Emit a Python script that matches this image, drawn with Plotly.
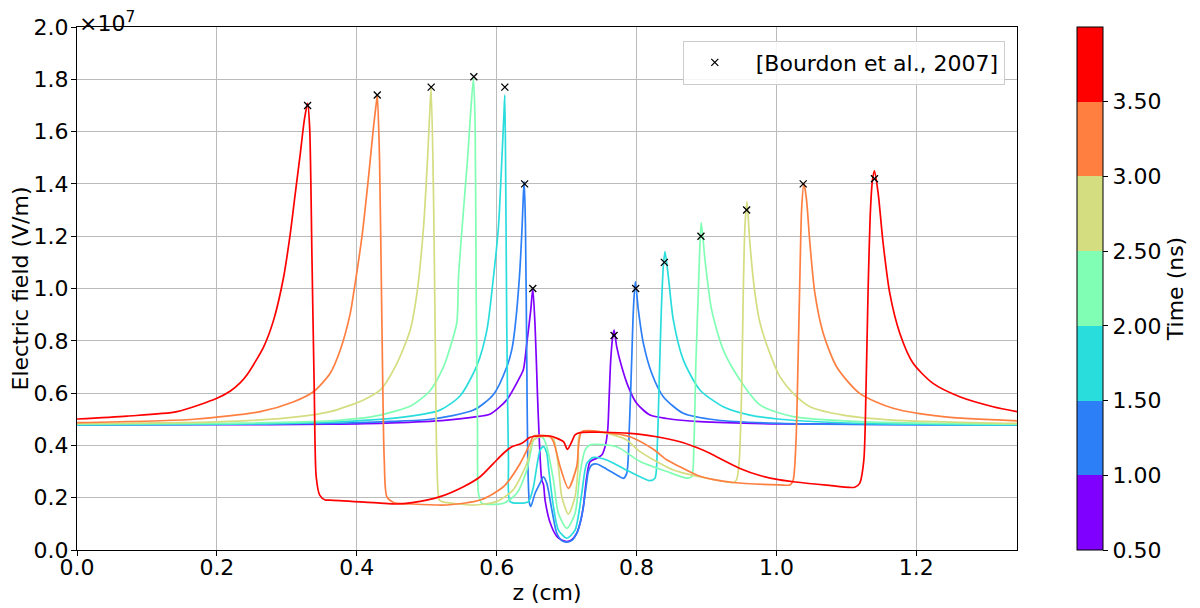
import plotly.graph_objects as go

# Electric field in units of 1e7 V/m, z in cm
times_ns = [0.5, 1.0, 1.5, 2.0, 2.5, 3.0, 3.5]
time_ticks = [0.5, 1.0, 1.5, 2.0, 2.5, 3.0, 3.5]
time_tick_text = ["0.50", "1.00", "1.50", "2.00", "2.50", "3.00", "3.50"]
colors = ["#8000ff", "#2c7ff7", "#2adddd", "#80ffb4", "#d4dd80", "#ff7f41", "#ff0000"]

z_t05 = [0.000, 0.200, 0.362, 0.450, 0.529, 0.567, 0.591, 0.6145, 0.6336, 0.6383, 0.6431, 0.6488, 0.6517, 0.655,
         0.6583, 0.6612, 0.6645, 0.667, 0.6693, 0.6764, 0.686, 0.693, 0.7002, 0.707, 0.7145, 0.720, 0.724, 0.7288,
         0.7336, 0.7431, 0.7502, 0.755, 0.7588, 0.7607, 0.7631, 0.766, 0.7679, 0.7717, 0.7788, 0.7883, 0.8002,
         0.8193, 0.8431, 0.8907, 1.005, 1.344]
e_t05 = [0.478, 0.479, 0.481, 0.486, 0.497, 0.508, 0.520, 0.574, 0.663, 0.690, 0.790, 0.918, 1.000, 0.854,
         0.599, 0.408, 0.268, 0.250, 0.190, 0.105, 0.052, 0.038, 0.032, 0.038, 0.064, 0.110, 0.166, 0.280,
         0.338, 0.351, 0.363, 0.395, 0.459, 0.574, 0.727, 0.816, 0.841, 0.777, 0.701, 0.624, 0.561,
         0.516, 0.503, 0.491, 0.482, 0.478]

z_t10 = [0.000, 0.362, 0.450, 0.505, 0.567, 0.5955, 0.6145, 0.622, 0.6264, 0.6326, 0.6364, 0.6383, 0.6395, 0.6412,
         0.6431, 0.6445, 0.6469, 0.6488, 0.655, 0.662, 0.6669, 0.6717, 0.679, 0.686, 0.693, 0.700, 0.707, 0.7145,
         0.720, 0.724, 0.7288, 0.7312, 0.736, 0.7431, 0.7574, 0.7717, 0.7812, 0.786, 0.7898, 0.7931, 0.7955,
         0.7983, 0.8026, 0.8098, 0.8217, 0.8383, 0.8669, 0.9145, 1.005, 1.344]
e_t10 = [0.478, 0.484, 0.492, 0.500, 0.535, 0.595, 0.700, 0.770, 0.854, 1.045, 1.236, 1.364, 1.409, 1.236,
         0.727, 0.344, 0.179, 0.166, 0.217, 0.255, 0.280, 0.255, 0.153, 0.064, 0.036, 0.030, 0.036, 0.064,
         0.110, 0.166, 0.260, 0.300, 0.325, 0.329, 0.309, 0.287, 0.274, 0.293, 0.472, 0.727, 0.918,
         1.026, 0.918, 0.790, 0.676, 0.586, 0.523, 0.497, 0.484, 0.478]

z_t15 = [0.000, 0.200, 0.362, 0.4574, 0.519, 0.5479, 0.5717, 0.586, 0.5955, 0.6026, 0.6074, 0.6107, 0.6117, 0.6131,
         0.6145, 0.6169, 0.6193, 0.6336, 0.6455, 0.6526, 0.6574, 0.6621, 0.6669, 0.6717, 0.674, 0.6812, 0.6883,
         0.7003, 0.7121, 0.7217, 0.7288, 0.7383, 0.7574, 0.7812, 0.805, 0.8193, 0.8264, 0.8298, 0.8326, 0.8355,
         0.8383, 0.8407, 0.8455, 0.8526, 0.8669, 0.8907, 0.924, 0.9621, 1.005, 1.119, 1.344]
e_t15 = [0.478, 0.480, 0.489, 0.505, 0.535, 0.590, 0.705, 0.840, 1.045, 1.236, 1.491, 1.683, 1.740, 1.364,
         0.854, 0.344, 0.185, 0.179, 0.185, 0.242, 0.319, 0.382, 0.395, 0.370, 0.319, 0.166, 0.076,
         0.045, 0.076, 0.217, 0.331, 0.354, 0.344, 0.312, 0.280, 0.265, 0.275, 0.408, 0.663, 0.918,
         1.083, 1.141, 1.045, 0.880, 0.727, 0.612, 0.548, 0.516, 0.500, 0.484, 0.478]

z_t20 = [0.000, 0.200, 0.362, 0.4336, 0.479, 0.505, 0.524, 0.5336, 0.5431, 0.5455, 0.5526, 0.5583, 0.5631, 0.5669,
         0.5693, 0.5707, 0.5726, 0.574, 0.5788, 0.6098, 0.6288, 0.6431, 0.6502, 0.6526, 0.6621, 0.6669, 0.6717,
         0.6812, 0.6883, 0.7003, 0.7121, 0.7193, 0.7264, 0.7336, 0.7717, 0.805, 0.8431, 0.8717, 0.8788, 0.8821,
         0.885, 0.8883, 0.8907, 0.8926, 0.8979, 0.9074, 0.924, 0.9479, 0.9764, 1.024, 1.119, 1.344]
e_t20 = [0.481, 0.484, 0.494, 0.516, 0.554, 0.610, 0.700, 0.775, 0.870, 1.045, 1.300, 1.491, 1.683, 1.804,
         1.619, 0.982, 0.472, 0.217, 0.179, 0.179, 0.217, 0.306, 0.395, 0.421, 0.433, 0.427, 0.395,
         0.268, 0.140, 0.083, 0.140, 0.293, 0.382, 0.402, 0.395, 0.338, 0.300, 0.275, 0.280, 0.408,
         0.727, 0.982, 1.173, 1.252, 1.109, 0.918, 0.765, 0.650, 0.555, 0.510, 0.491, 0.481]

z_t25 = [0.000, 0.200, 0.300, 0.362, 0.4098, 0.4336, 0.4574, 0.4764, 0.486, 0.4955, 0.5011, 0.505, 0.5064, 0.5097,
         0.512, 0.5145, 0.518, 0.5217, 0.5669, 0.5998, 0.6233, 0.6431, 0.6526, 0.6621, 0.6764, 0.6812, 0.6883,
         0.6931, 0.7026, 0.7121, 0.7169, 0.7193, 0.7574, 0.786, 0.805, 0.8526, 0.8907, 0.9383, 0.943, 0.9469,
         0.9502, 0.9526, 0.955, 0.9579, 0.9621, 0.9693, 0.9764, 0.9907, 1.005, 1.024, 1.048, 1.0955, 1.1669, 1.344]
e_t25 = [0.484, 0.490, 0.505, 0.529, 0.574, 0.612, 0.714, 0.841, 0.980, 1.236, 1.491, 1.708, 1.766, 1.364,
         0.854, 0.344, 0.191, 0.185, 0.172, 0.185, 0.229, 0.331, 0.421, 0.433, 0.433, 0.427, 0.319,
         0.204, 0.137, 0.204, 0.331, 0.446, 0.446, 0.421, 0.376, 0.306, 0.280, 0.258, 0.268, 0.344,
         0.599, 0.982, 1.236, 1.332, 1.173, 0.982, 0.870, 0.752, 0.663, 0.599, 0.548, 0.516, 0.497, 0.484]

z_t30 = [0.000, 0.167, 0.262, 0.310, 0.338, 0.362, 0.3764, 0.3907, 0.3955, 0.4074, 0.4169, 0.424, 0.4288, 0.4295,
         0.4326, 0.436, 0.4393, 0.443, 0.4526, 0.479, 0.5288, 0.5764, 0.6098, 0.6336, 0.6479, 0.6526, 0.6764,
         0.6812, 0.6883, 0.6907, 0.7026, 0.7145, 0.7217, 0.7574, 0.7907, 0.824, 0.8431, 0.8621, 0.8907, 0.9383,
         1.005, 1.0193, 1.024, 1.0279, 1.031, 1.0336, 1.036, 1.0393, 1.0431, 1.0479, 1.055, 1.0669, 1.086,
         1.119, 1.1669, 1.2383, 1.344]
e_t30 = [0.487, 0.500, 0.529, 0.567, 0.605, 0.676, 0.765, 0.905, 0.982, 1.198, 1.428, 1.619, 1.727, 1.740,
         1.491, 0.854, 0.344, 0.204, 0.182, 0.176, 0.172, 0.191, 0.242, 0.331, 0.408, 0.436, 0.433,
         0.414, 0.344, 0.319, 0.236, 0.319, 0.452, 0.449, 0.433, 0.385, 0.345, 0.318, 0.282, 0.258,
         0.249, 0.249, 0.268, 0.408, 0.727, 1.045, 1.300, 1.402, 1.338, 1.173, 0.982, 0.829, 0.701,
         0.599, 0.542, 0.510, 0.494]

z_t35 = [0.000, 0.0717, 0.143, 0.200, 0.2193, 0.2336, 0.2431, 0.2669, 0.2812, 0.2955, 0.305, 0.3121, 0.3193, 0.325,
         0.3297, 0.3326, 0.336, 0.3393, 0.342, 0.347, 0.355, 0.362, 0.4336, 0.457, 0.479, 0.5193, 0.5526, 0.5764,
         0.5955, 0.6098, 0.6217, 0.636, 0.6479, 0.6621, 0.6764, 0.6955, 0.7012, 0.7074, 0.7121, 0.7193, 0.7907,
         0.8288, 0.8621, 0.886, 0.905, 0.9193, 0.9479, 0.9764, 1.005, 1.024, 1.0717, 1.112, 1.119, 1.125, 1.128,
         1.131, 1.1345, 1.1374, 1.1402, 1.1455, 1.1526, 1.1621, 1.1764, 1.1955, 1.224, 1.2621, 1.3098, 1.344]
e_t35 = [0.501, 0.512, 0.529, 0.580, 0.608, 0.640, 0.670, 0.777, 0.880, 1.045, 1.211, 1.364, 1.517, 1.644,
         1.708, 1.619, 1.109, 0.599, 0.280, 0.210, 0.191, 0.191, 0.179, 0.176, 0.181, 0.204, 0.242, 0.280,
         0.331, 0.370, 0.395, 0.408, 0.431, 0.436, 0.436, 0.414, 0.385, 0.414, 0.440, 0.449, 0.446,
         0.433, 0.414, 0.392, 0.370, 0.350, 0.312, 0.285, 0.268, 0.261, 0.248, 0.240, 0.255, 0.344, 0.599,
         0.982, 1.300, 1.415, 1.450, 1.364, 1.173, 0.982, 0.829, 0.714, 0.637, 0.586, 0.548, 0.529]

# Reference data [Bourdon et al., 2007]
ref_z = [0.3297, 0.4293, 0.5064, 0.5674, 0.6117, 0.6400, 0.6517, 0.7679, 0.7988, 0.8398, 0.8921, 0.9574, 1.0383, 1.1402]
ref_e = [1.70, 1.74, 1.77, 1.81, 1.77, 1.40, 1.00, 0.82, 1.00, 1.10, 1.20, 1.30, 1.40, 1.42]

series_z = [z_t05, z_t10, z_t15, z_t20, z_t25, z_t30, z_t35]
series_e = [e_t05, e_t10, e_t15, e_t20, e_t25, e_t30, e_t35]

FONT = "DejaVu Sans"
FS = 22
# the page body adds an 8 px offset; layout positions below compensate for it
OFF = 8
fig = go.Figure()

for t, zz, ee, c in zip(times_ns, series_z, series_e, colors):
    fig.add_trace(go.Scatter(x=zz, y=ee, mode="lines",
                             line=dict(color=c, width=1.7, shape="spline", smoothing=0.7),
                             showlegend=False, name=f"{t} ns", hoverinfo="skip"))

fig.add_trace(go.Scatter(x=ref_z, y=ref_e, mode="markers", name="[Bourdon et al., 2007]",
                         marker=dict(symbol="x-thin", size=7, color="black",
                                     line=dict(width=1.3, color="black")),
                         showlegend=True))

# discrete colorscale (7 bins between 0.5 and 4.0 ns)
n = len(colors)
cscale = []
for i, c in enumerate(colors):
    cscale.append([i / n, c])
    cscale.append([(i + 1) / n, c])

fig.add_trace(go.Scatter(x=[None], y=[None], mode="markers", showlegend=False, hoverinfo="skip",
                         marker=dict(color=[0.5], colorscale=cscale, cmin=0.5, cmax=4.0, showscale=True,
                                     colorbar=dict(
                                         xref="container", x=(1077 - OFF) / 1200, xanchor="left", xpad=0,
                                         yref="paper", y=0.5, yanchor="middle", len=1, lenmode="fraction",
                                         ypad=0,
                                         thickness=26, thicknessmode="pixels",
                                         outlinewidth=1, outlinecolor="black",
                                         tickvals=time_ticks, ticktext=time_tick_text,
                                         ticks="outside", ticklen=5, tickcolor="black",
                                         tickfont=dict(family=FONT, size=FS, color="black"),
                                         title=dict(text="Time (ns)", side="right",
                                                    font=dict(family=FONT, size=FS, color="black")),
                                     ))))

axis_common = dict(showline=True, mirror=True, linecolor="black", linewidth=1,
                   ticks="outside", ticklen=5, tickcolor="black", tickwidth=1,
                   showgrid=True, gridcolor="#bbbbbb", gridwidth=1.2, zeroline=False,
                   automargin=False,
                   tickfont=dict(family=FONT, size=FS, color="black"))

fig.update_layout(
    width=1200, height=608,
    margin=dict(l=77 - OFF, r=1200 - (1017 - OFF), t=27 - OFF, b=608 - (550 - OFF), autoexpand=False),
    paper_bgcolor="white", plot_bgcolor="white",
    font=dict(family=FONT, size=FS, color="black"),
    xaxis=dict(range=[0, 1.344], tickvals=[0, 0.2, 0.4, 0.6, 0.8, 1.0, 1.2], tickformat=".1f",
               ticklabelstandoff=-7,
               title=dict(text="z (cm)", standoff=3, font=dict(family=FONT, size=FS)), **axis_common),
    yaxis=dict(range=[0, 2.0], dtick=0.2, tick0=0, tickformat=".1f", ticklabelstandoff=-2,
               title=dict(text="Electric field (V/m)", standoff=0, font=dict(family=FONT, size=FS)),
               **axis_common),
    legend=dict(x=0.987, xanchor="right", y=0.974, yanchor="top",
                bgcolor="rgba(255,255,255,0.85)", bordercolor="#cccccc", borderwidth=1,
                font=dict(family=FONT, size=FS, color="black"), itemwidth=72, indentation=-10),
    annotations=[dict(text="×10<sup>7</sup>", xref="paper", yref="paper", x=0, y=1.0,
                      xanchor="left", yanchor="bottom", showarrow=False,
                      font=dict(family=FONT, size=FS, color="black"), yshift=-11)],
)

fig.write_html("out.html")
